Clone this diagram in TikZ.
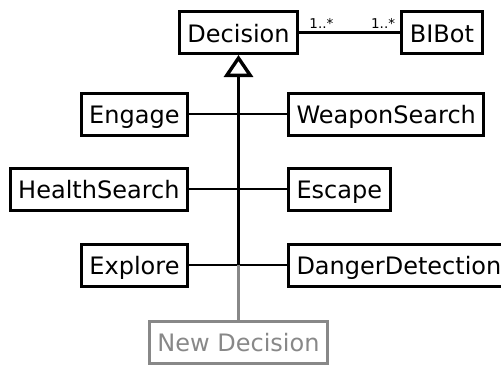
\documentclass[tikz,border=0pt]{standalone}
\usepackage{fontspec}
\setmainfont{DejaVu Sans}
\usetikzlibrary{arrows.meta}
\definecolor{newgray}{HTML}{888888}

\tikzset{
  cls/.style={draw,line width=3pt,font=\fontsize{24}{28}\selectfont,
    inner xsep=8pt,inner ysep=0pt,minimum height=42pt,text height=21pt,text depth=2pt},
  newcls/.style={cls,draw=newgray,text=newgray},
  link/.style={line width=2.8pt},
  mult/.style={font=\fontsize{13.5}{15}\selectfont,inner sep=0pt}
}

\begin{document}
\begin{tikzpicture}[x=1pt,y=-1pt]
  \useasboundingbox (0,0) rectangle (501,365);
  % top row
  \node [cls] (decision) at (238.5,32.5) {Decision};
  \node [cls] (bibot) at (442,32.5) {BIBot};
  \draw [link] (decision) --
    node [mult,pos=0,anchor=south west,xshift=9pt,yshift=3pt] {1..*}
    node [mult,pos=1,anchor=south east,xshift=-4pt,yshift=3pt] {1..*} (bibot);
  % decisions, left column
  \node [cls,anchor=east] (engage) at (189,114) {Engage};
  \node [cls,anchor=east] (health) at (189,189) {HealthSearch};
  \node [cls,anchor=east] (explore) at (189,265) {Explore};
  % decisions, right column
  \node [cls,anchor=west] (weapon) at (287,114) {WeaponSearch};
  \node [cls,anchor=west] (escape) at (287,189) {Escape};
  \node [cls,anchor=west] (danger) at (287,265) {DangerDetection};
  % the one still to come
  \node [newcls] (newdec) at (238.5,342) {New Decision};
  \coordinate (hub) at (decision.south |- explore.east);
  \draw [link] (engage) -- (weapon);
  \draw [link] (health) -- (escape);
  \draw [link] (explore) -- (danger);
  \draw [link,draw=newgray] (newdec) -- (hub);
  \draw [line width=3.4pt,-{Triangle[open,length=22pt,width=29pt]}] (hub) -- (decision.south);
\end{tikzpicture}
\end{document}
